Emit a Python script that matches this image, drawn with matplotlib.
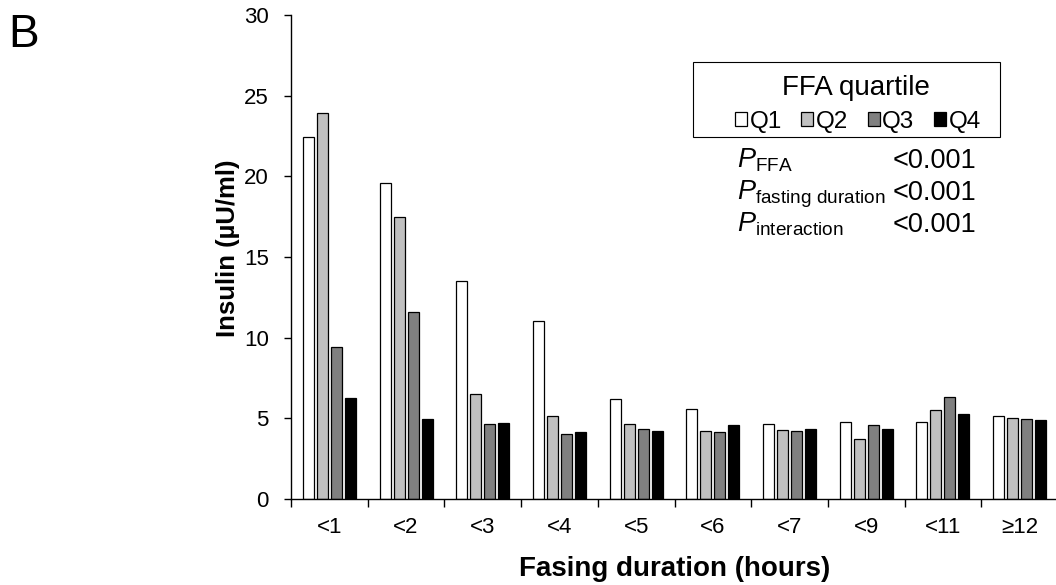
import numpy as np
import matplotlib
matplotlib.use('Agg')
from matplotlib import pyplot as plt
from matplotlib.patches import Rectangle

plt.rcParams['font.family'] = ['Liberation Sans', 'DejaVu Sans']
plt.rcParams['mathtext.fontset'] = 'custom'
plt.rcParams['mathtext.rm'] = 'Liberation Sans'
plt.rcParams['mathtext.it'] = 'Liberation Sans:italic'

# dati
categorie = ['<1', '<2', '<3', '<4', '<5', '<6', '<7', '<9', '<11', '≥12']
q1 = [22.46, 19.57, 13.53, 11.03, 6.18, 5.58, 4.65, 4.79, 4.79, 5.16]
q2 = [23.90, 17.46, 6.49, 5.16, 4.65, 4.19, 4.30, 3.74, 5.50, 5.02]
q3 = [9.44, 11.61, 4.63, 4.05, 4.32, 4.15, 4.23, 4.56, 6.30, 4.93]
q4 = [6.28, 4.94, 4.69, 4.13, 4.21, 4.56, 4.31, 4.34, 5.26, 4.90]
serie = ['Q1', 'Q2', 'Q3', 'Q4']
colori = ['white', '#c0c0c0', '#808080', 'black']
p_nomi = [r'$\mathit{P}_{\mathrm{FFA}}$',
          r'$\mathit{P}_{\mathrm{fasting\ duration}}$',
          r'$\mathit{P}_{\mathrm{interaction}}$']
p_valori = ['<0.001', '<0.001', '<0.001']

fig = plt.figure(figsize=(10.56, 5.85), dpi=100)
ax = fig.add_axes([291/1056, 86/585, 767/1056, 484/585])

x = np.arange(len(categorie))
w = 0.143
passo = 0.1825
for i, (vals, c, nome) in enumerate(zip([q1, q2, q3, q4], colori, serie)):
    ax.bar(x + (i - 1.5)*passo, vals, w, color=c, edgecolor='black',
           linewidth=0.9, label=nome)

ax.set_xlim(-0.5, 9.5)
ax.set_ylim(0, 30)
ax.set_yticks(np.arange(0, 31, 5))
ax.set_xticks(x)
ax.set_xticklabels(categorie)
ax.set_xticks(np.arange(-0.5, 10, 1), minor=True)
ax.tick_params(axis='x', which='major', length=0, pad=13, labelsize=16)
ax.tick_params(axis='x', which='minor', length=6, width=1)
ax.tick_params(axis='y', length=5, width=1, labelsize=16, pad=11)
ax.spines['top'].set_visible(False)
ax.spines['right'].set_visible(False)
for s in ['left', 'bottom']:
    ax.spines[s].set_linewidth(1)

ax.set_ylabel('Insulin (µU/ml)', fontsize=18.5, fontweight='bold')
ax.yaxis.set_label_coords(-0.066, 0.519)
ax.set_xlabel('Fasing duration (hours)', fontsize=20, fontweight='bold')
ax.xaxis.set_label_coords(0.5, -0.118)

# riquadro legenda
ax.add_patch(Rectangle((0.524, 0.748), 0.40, 0.155, transform=ax.transAxes,
                       fill=False, edgecolor='black', linewidth=0.8,
                       clip_on=False))
ax.text(0.737, 0.835, 'FFA quartile', transform=ax.transAxes, fontsize=20,
        ha='center', va='baseline')
leg = ax.legend(loc='center', bbox_to_anchor=(0.739, 0.779), ncol=4,
                frameon=False, fontsize=17.5, handlelength=0.5,
                handleheight=0.5, handletextpad=0.1, columnspacing=0.8,
                borderpad=0.0)

for k, (nome, val) in enumerate(zip(p_nomi, p_valori)):
    yy = 0.684 - k*0.066
    ax.text(0.5815, yy, nome, transform=ax.transAxes, fontsize=19.5, va='baseline')
    ax.text(0.785, yy, val, transform=ax.transAxes, fontsize=19.5, va='baseline')

fig.text(0.008, 0.977, 'B', fontsize=33, va='top', ha='left')

fig.savefig('out.png', dpi=100)
